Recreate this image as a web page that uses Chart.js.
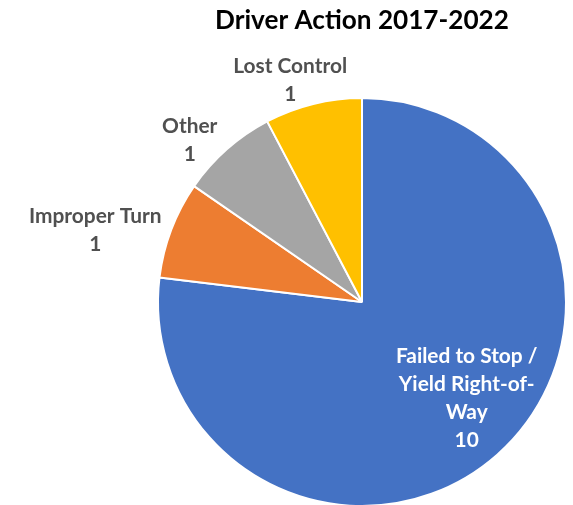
<!DOCTYPE html>
<html>
<head>
<meta charset="utf-8">
<script src="https://cdn.jsdelivr.net/npm/chart.js@4"></script>
<style>
  html, body { margin: 0; padding: 0; background: #fff; }
  .wrap { width: 573px; height: 505px; overflow: hidden; position: relative; }
</style>
</head>
<body>
<div class="wrap"><canvas id="myChart" width="573" height="510"></canvas></div>
<script>
const chartTitle = 'Driver Action 2017-2022'
const categories = ['Failed to Stop / Yield Right-of-Way', 'Improper Turn', 'Other', 'Lost Control']
// how each label breaks into lines, like the picture
const labelLines = [['Failed to Stop /', 'Yield Right-of-', 'Way'], ['Improper Turn'], ['Other'], ['Lost Control']]
const counts = [10, 1, 1, 1]
const sliceColors = ['#4472C4', '#ED7D31', '#A5A5A5', '#FFC000']

const FONT = 'Lato, "Noto Sans", sans-serif'

// label placement: radius factor from centre, then nudge (dx to text centre, dy to first baseline)
const labelPlace = [
  { r: 0.7, dx: 10, dy: -46, color: '#ffffff' },
  { r: 1.0, dx: -76, dy: -7, color: '#505050' },
  { r: 1.0, dx: -37, dy: -16, color: '#505050' },
  { r: 1.0, dx: -23, dy: -31, color: '#505050' },
]

function fitSize(ctx, text, targetW) {
  ctx.font = 'bold 100px ' + FONT
  return 100 * targetW / ctx.measureText(text).width
}

const pieLabels = {
  id: 'pieLabels',
  afterDatasetsDraw(chart) {
    const ctx = chart.ctx
    const meta = chart.getDatasetMeta(0)
    ctx.save()
    const labelSize = fitSize(ctx, 'Lost Control', 114)
    const lh = 28
    meta.data.forEach((arc, i) => {
      const p = arc.getProps(['x', 'y', 'startAngle', 'endAngle', 'outerRadius'], true)
      const mid = (p.startAngle + p.endAngle) / 2
      const place = labelPlace[i]
      const rr = p.outerRadius * place.r
      const cx = p.x + Math.cos(mid) * rr + place.dx
      let y = p.y + Math.sin(mid) * rr + place.dy
      ctx.font = 'bold ' + labelSize + 'px ' + FONT
      ctx.fillStyle = place.color
      ctx.textAlign = 'center'
      ctx.textBaseline = 'alphabetic'
      const lines = labelLines[i].concat([String(counts[i])])
      lines.forEach(t => {
        ctx.fillText(t, cx, y)
        y += lh
      })
    })

    // title, centred over the pie
    const titleSize = fitSize(ctx, chartTitle, 294)
    ctx.font = 'bold ' + titleSize + 'px ' + FONT
    ctx.fillStyle = '#000'
    ctx.textAlign = 'center'
    ctx.fillText(chartTitle, meta.data[0].x, 29)
    ctx.restore()
  }
}

const ctx = document.getElementById('myChart')
new Chart(ctx, {
  type: 'pie',
  data: {
    labels: categories,
    datasets: [{
      data: counts,
      backgroundColor: sliceColors,
      borderColor: '#ffffff',
      borderWidth: 2
    }]
  },
  options: {
    responsive: false,
    animation: false,
    layout: { padding: { left: 157, right: 6, top: 97, bottom: 3 } },
    plugins: {
      legend: { display: false },
      tooltip: { enabled: false },
      title: { display: false }
    }
  },
  plugins: [pieLabels]
})
</script>
</body>
</html>
